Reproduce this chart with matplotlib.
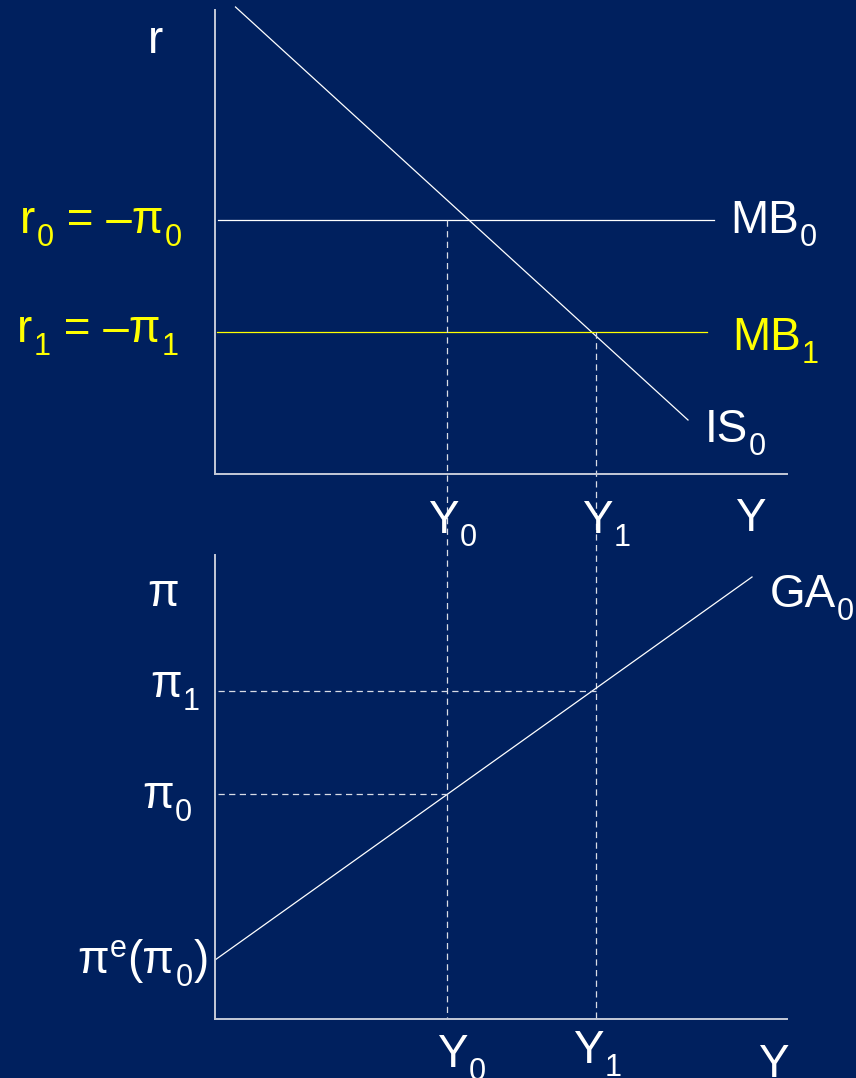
import matplotlib
matplotlib.use("Agg")
import matplotlib.pyplot as plt

# diagram values, measured from the axis origin of each panel
Y_levels = [232, 381]            # Y0, Y1
r_levels = [254, 142]            # r0 = -pi0, r1 = -pi1
mb_ends = [499, 492]             # right end of MB0, MB1
is_Y = [20.5, 473]               # IS0 endpoints
is_r = [467, 54]
pi_levels = [225, 328]           # pi0, pi1
ga_Y = [0, 537]                  # GA0 endpoints
ga_pi = [59, 442]
panel_gap = 545                  # distance between the two origins

BG = "#00205E"
AXIS = "#C5CAD8"
YELLOW = "#FFFF00"
DASH = "#D8DCE6"

plt.rcParams["font.family"] = ["Liberation Sans", "DejaVu Sans"]

FS = 33
SUB_FS = 22


def label(ax, x, y, parts, color="white"):
    """Write text made of pieces: (text, kind) with kind n / sub / sup."""
    first = ax.text(x, y, parts[0][0], color=color, fontsize=FS,
                    ha="left", va="baseline")
    prev = first
    for txt, kind in parts[1:]:
        size, dy = FS, 0
        if kind == "sub":
            size, dy = SUB_FS, -13
        elif kind == "sup":
            size, dy = SUB_FS, 16
        prev = ax.annotate(txt, xy=(1, y), xycoords=(prev, "data"),
                           xytext=(1, dy), textcoords="offset pixels",
                           color=color, fontsize=size, ha="left",
                           va="baseline", annotation_clip=False)
    return first


W, H = 856, 1078
fig = plt.figure(figsize=(W / 100, H / 100), dpi=100, facecolor=BG)

ax_top = fig.add_axes([215 / W, 1 - 474 / H, 572 / W, 464 / H])
ax_bot = fig.add_axes([215 / W, 1 - 1019 / H, 572 / W, 464 / H])

for ax in (ax_top, ax_bot):
    ax.set_facecolor("none")
    ax.set_xlim(0, 572)
    ax.set_ylim(0, 464)
    ax.set_xticks([])
    ax.set_yticks([])
    for s in ("top", "right"):
        ax.spines[s].set_visible(False)
    for s in ("left", "bottom"):
        ax.spines[s].set_color(AXIS)
        ax.spines[s].set_linewidth(1.4)

lw = 0.9
dash = (0, (5, 3.5))

# ---- top panel: IS / MB ----
ax_top.plot(is_Y, is_r, color="white", lw=lw, clip_on=False)
ax_top.plot([3, mb_ends[0]], [r_levels[0]] * 2, color="white", lw=lw)
ax_top.plot([2, mb_ends[1]], [r_levels[1]] * 2, color=YELLOW, lw=lw)

for Yv, rv in zip(Y_levels, r_levels):
    ax_top.plot([Yv, Yv], [rv, -panel_gap], color=DASH, lw=lw,
                ls=dash, clip_on=False)

label(ax_top, -67, 421, [("r", "n")])
label(ax_top, -195, 241, [("r", "n"), ("0", "sub"), (" = \u2013π", "n"), ("0", "sub")], YELLOW)
label(ax_top, -198, 132, [("r", "n"), ("1", "sub"), (" = \u2013π", "n"), ("1", "sub")], YELLOW)
label(ax_top, 515, 241, [("MB", "n"), ("0", "sub")])
label(ax_top, 517, 124, [("MB", "n"), ("1", "sub")], YELLOW)
label(ax_top, 490, 32, [("IS", "n"), ("0", "sub")])
label(ax_top, 213, -59, [("Y", "n"), ("0", "sub")])
label(ax_top, 367, -59, [("Y", "n"), ("1", "sub")])
label(ax_top, 520, -57, [("Y", "n")])

# ---- bottom panel: GA ----
ax_bot.plot(ga_Y, ga_pi, color="white", lw=lw, clip_on=False)
for Yv, pv in zip(Y_levels, pi_levels):
    ax_bot.plot([3, Yv], [pv, pv], color=DASH, lw=lw, ls=dash)

label(ax_bot, -68, 413, [("π", "n")])
label(ax_bot, -65, 322, [("π", "n"), ("1", "sub")])
label(ax_bot, -73, 211, [("π", "n"), ("0", "sub")])
label(ax_bot, -138, 46, [("π", "n"), ("e", "sup"), ("(π", "n"), ("0", "sub"), (")", "n")])
label(ax_bot, 555, 412, [("GA", "n"), ("0", "sub")])
label(ax_bot, 222, -48, [("Y", "n"), ("0", "sub")])
label(ax_bot, 358, -44, [("Y", "n"), ("1", "sub")])
label(ax_bot, 543, -58, [("Y", "n")])

fig.savefig("out.png", dpi=100, facecolor=BG)
